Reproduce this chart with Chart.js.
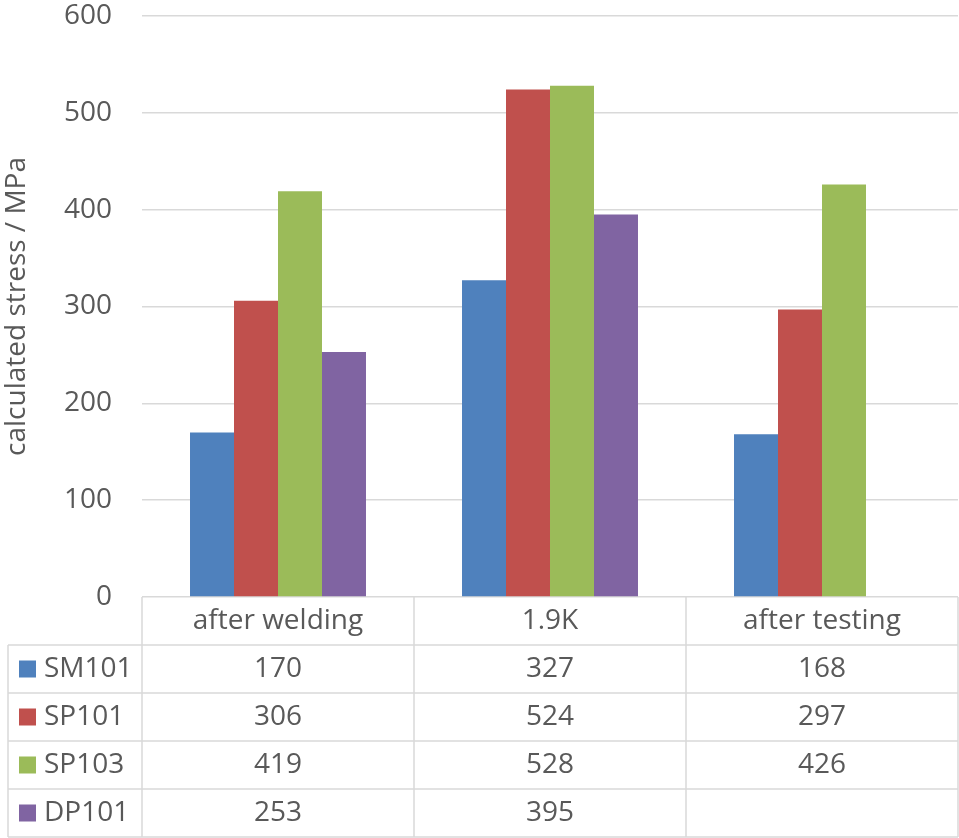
<!DOCTYPE html>
<html>
<head>
<meta charset="utf-8">
<script src="https://cdn.jsdelivr.net/npm/chart.js@4"></script>
<style>
html,body{margin:0;padding:0;background:#fff;}
#wrap{width:959px;height:838px;position:relative;}
</style>
</head>
<body>
<div id="wrap"><canvas id="c" width="959" height="838"></canvas></div>
<script>
const categories = ['after welding', '1.9K', 'after testing'];
const seriesNames = ['SM101', 'SP101', 'SP103', 'DP101'];
const SM101 = [170, 327, 168];
const SP101 = [306, 524, 297];
const SP103 = [419, 528, 426];
const DP101 = [253, 395, null];
const yTicks = [0, 100, 200, 300, 400, 500, 600];
const colors = ['#4f81bd', '#c0504d', '#9bbb59', '#8064a2'];
const yTitle = 'calculated stress / MPa';

const FONT = '"Open Sans", Lato, sans-serif';
const TXT = '#595959';
const GRID = '#d9d9d9';
const seriesData = [SM101, SP101, SP103, DP101];

const tablePlugin = {
  id: 'dataTable',
  afterDraw(chart) {
    const ctx = chart.ctx;
    const area = chart.chartArea;
    const xs = chart.scales.x;
    const top = area.bottom;
    const headerH = 48;
    const rowH = 48;
    const leftX = 8;
    const rightX = area.right;
    const n = categories.length;
    const boundaries = [];
    for (let i = 0; i <= n; i++) {
      boundaries.push(area.left + (area.right - area.left) * i / n);
    }
    ctx.save();
    ctx.strokeStyle = GRID;
    ctx.lineWidth = 1.5;
    const bottom = top + headerH + rowH * seriesNames.length;
    boundaries.forEach(x => {
      ctx.beginPath(); ctx.moveTo(x, top); ctx.lineTo(x, bottom); ctx.stroke();
    });
    ctx.beginPath(); ctx.moveTo(leftX, top + headerH); ctx.lineTo(leftX, bottom); ctx.stroke();
    for (let r = 0; r <= seriesNames.length; r++) {
      const y = top + headerH + r * rowH;
      ctx.beginPath(); ctx.moveTo(leftX, y); ctx.lineTo(rightX, y); ctx.stroke();
    }
    ctx.fillStyle = TXT;
    ctx.font = '28px ' + FONT;
    ctx.textAlign = 'center';
    ctx.textBaseline = 'middle';
    categories.forEach((c, i) => {
      const cx = xs.getPixelForValue(i);
      ctx.fillText(c, cx, top + headerH / 2);
    });
    seriesNames.forEach((s, r) => {
      const cy = top + headerH + r * rowH + rowH / 2;
      ctx.fillStyle = colors[r];
      ctx.fillRect(19, cy - 8.5, 17, 17);
      ctx.fillStyle = TXT;
      ctx.textAlign = 'left';
      ctx.fillText(s, 44, cy);
      ctx.textAlign = 'center';
      seriesData[r].forEach((v, i) => {
        if (v !== null && v !== undefined) {
          ctx.fillText(String(v), xs.getPixelForValue(i), cy);
        }
      });
    });
    ctx.restore();
  }
};

new Chart(document.getElementById('c'), {
  type: 'bar',
  data: {
    labels: categories,
    datasets: seriesNames.map((name, i) => ({
      label: name,
      data: seriesData[i],
      backgroundColor: colors[i],
      borderWidth: 0,
      categoryPercentage: 0.647,
      barPercentage: 1.0
    }))
  },
  options: {
    responsive: false,
    animation: false,
    devicePixelRatio: 1,
    layout: { padding: { top: 16, right: 1, bottom: 241, left: 0 } },
    plugins: { legend: { display: false }, tooltip: { enabled: false } },
    scales: {
      x: { display: false },
      y: {
        min: 0, max: 600,
        afterBuildTicks(s) { s.ticks = yTicks.map(v => ({ value: v })); },
        afterFit(s) { s.width = 142; s.paddingTop = 0; s.paddingBottom = 0; },
        border: { display: false },
        grid: { color: GRID, lineWidth: 1.5, drawTicks: false },
        ticks: { color: TXT, font: { family: FONT, size: 28 }, padding: 30 },
        title: { display: true, text: yTitle, color: TXT, font: { family: FONT, size: 28 }, padding: { top: 0, bottom: 4 } }
      }
    }
  },
  plugins: [tablePlugin]
});
</script>
</body>
</html>
